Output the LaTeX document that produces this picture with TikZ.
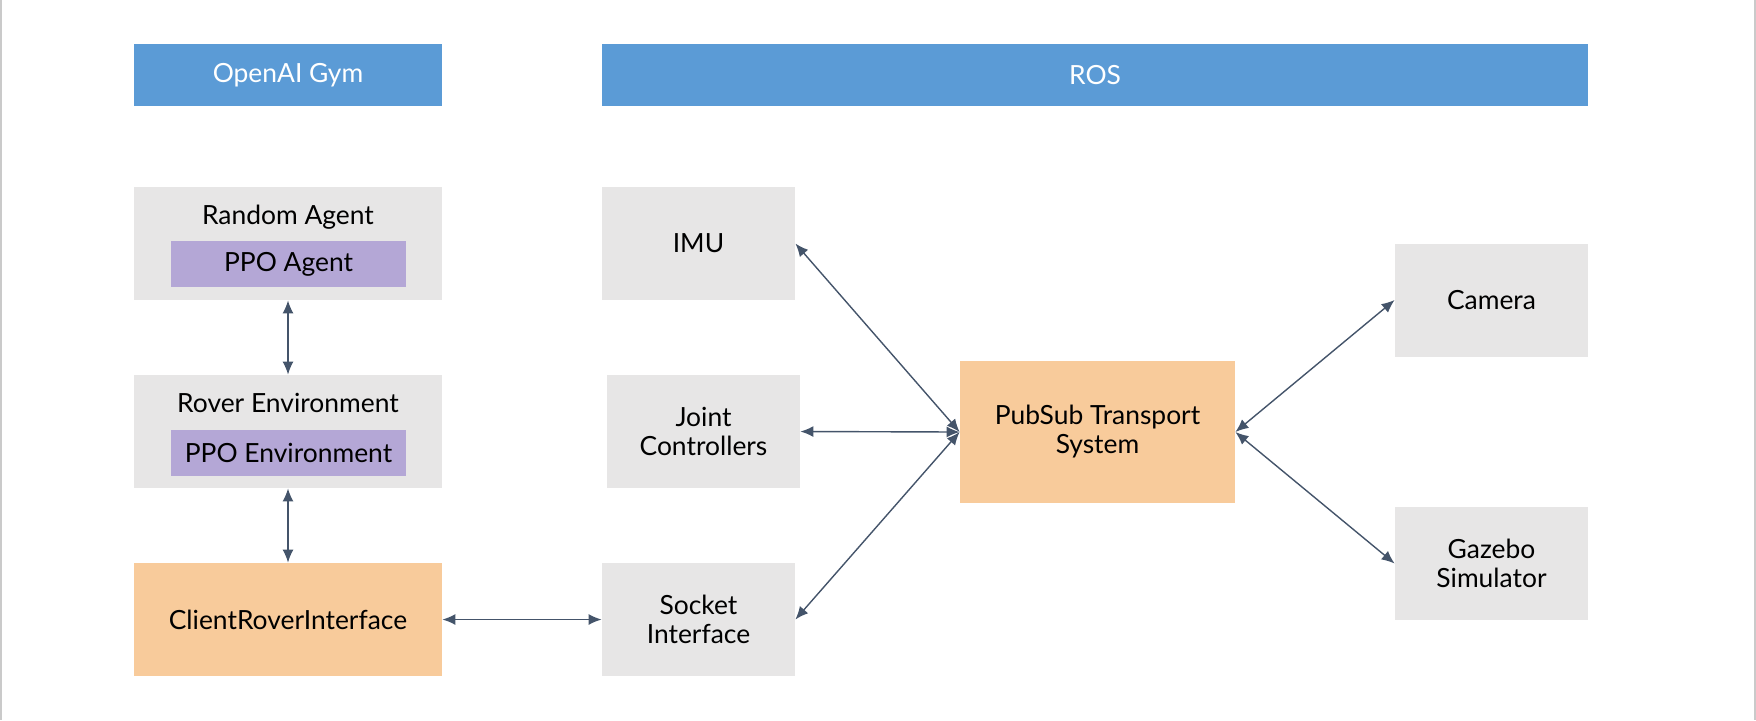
\documentclass[tikz,border=0pt]{standalone}
\usepackage{fontspec}
\setmainfont{Lato}
\usetikzlibrary{arrows.meta}
\definecolor{hdrblue}{HTML}{5B9BD6}
\definecolor{boxgray}{HTML}{E7E6E6}
\definecolor{ppopurple}{HTML}{B4A7D6}
\definecolor{busorange}{HTML}{F8CB9B}
\definecolor{linkslate}{HTML}{44546A}
\definecolor{framegray}{HTML}{CACACA}
\tikzset{>={Latex[length=6.5pt,width=5.5pt]}}
\tikzset{
  txt/.style={font=\fontsize{13.2}{14.5}\selectfont, align=center, inner sep=0pt},
  header/.style={txt, fill=hdrblue, text=white, minimum height=31pt},
  graybox/.style={txt, fill=boxgray, minimum width=96.5pt, minimum height=56.5pt},
  wideblock/.style={txt, fill=boxgray, minimum width=154pt, minimum height=56.5pt},
  ppobox/.style={txt, fill=ppopurple, minimum width=117.5pt, minimum height=23pt},
  link/.style={<->, draw=linkslate, line width=0.7pt}
}

\begin{document}
\begin{tikzpicture}[x=0.5pt, y=-0.5pt]

  \useasboundingbox (0,0) rectangle (1756,720);
  \draw[framegray, line width=1pt] (1,0) -- (1,720);
  \draw[framegray, line width=1pt] (1755,0) -- (1755,720);

  % headers
  \node[header, minimum width=154pt] (gym_hdr) at (288,75) {OpenAI Gym};
  \node[header, minimum width=493pt] (ros_hdr) at (1095,75) {ROS};

  % OpenAI Gym column
  \node[wideblock] (random_agent) at (288,243.5) {};
  \node[txt] (random_agent_txt) at (288,217) {Random Agent};
  \node[ppobox] (ppo_agent) at (288.5,264) {PPO Agent};

  \node[wideblock] (rover_env) at (288,431.5) {};
  \node[txt] (rover_env_txt) at (288,403) {Rover Environment};
  \node[ppobox] (ppo_env) at (288.5,452.5) {PPO Environment};

  \node[wideblock, fill=busorange] (client) at (288,619.5) {ClientRoverInterface};

  % ROS column
  \node[graybox] (imu) at (698.5,243.5) {IMU};
  \node[graybox] (joint) at (703.5,431.5) {Joint\\Controllers};
  \node[graybox] (socket) at (698.5,619.5) {Socket\\Interface};

  \node[txt, fill=busorange, minimum width=137.5pt, minimum height=71pt] (pubsub) at (1097.5,432) {PubSub Transport\\System};

  \node[graybox] (camera) at (1491.5,300) {Camera};
  \node[graybox] (gazebo) at (1491.5,563.5) {Gazebo\\Simulator};

  \draw[link] (random_agent.south) -- (rover_env.north);
  \draw[link] (rover_env.south) -- (client.north);
  \draw[link] (client.east) -- (socket.west);

  \draw[link] (imu.east) -- (pubsub.west);
  \draw[link] (joint.east) -- (pubsub.west);
  \draw[link] (socket.east) -- (pubsub.west);

  \draw[link] (pubsub.east) -- (camera.west);
  \draw[link] (pubsub.east) -- (gazebo.west);

\end{tikzpicture}
\end{document}
